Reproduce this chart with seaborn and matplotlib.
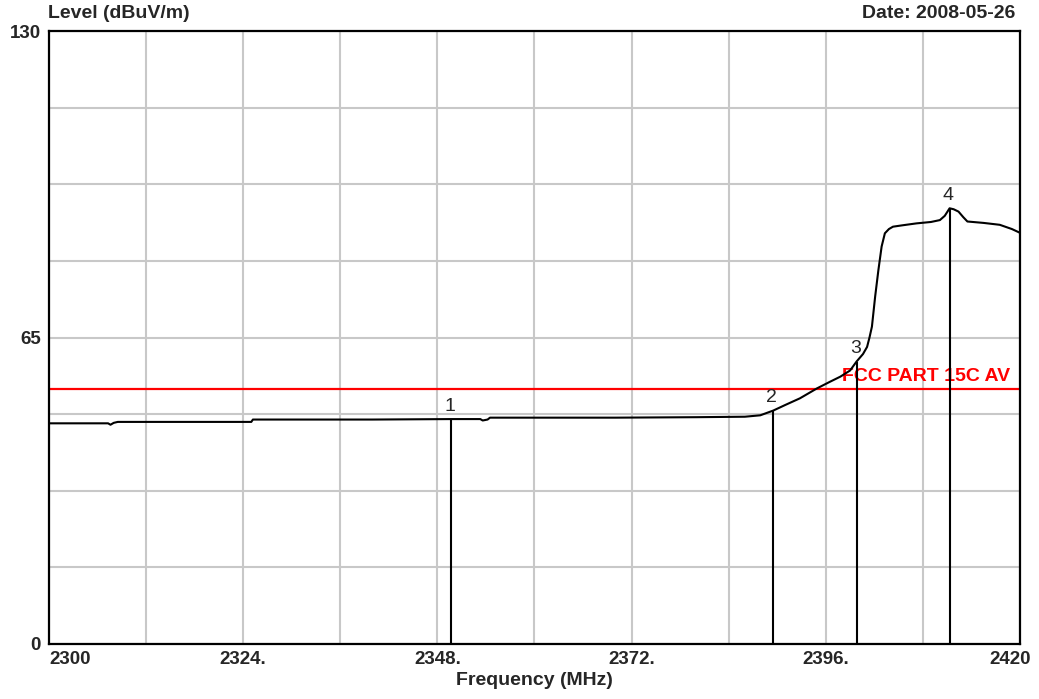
import numpy as np
import pandas as pd
import matplotlib
matplotlib.use("Agg")
import matplotlib.pyplot as plt
import seaborn as sns

# Trace (MHz, dBuV/m)
freq = [2300.0, 2307.3, 2307.6, 2308.0, 2308.5, 2325.0, 2325.2, 2340.0,
        2349.7, 2353.3, 2353.6, 2354.2, 2354.5, 2370.0, 2380.0, 2386.0,
        2387.9, 2389.5, 2391.0, 2392.8, 2394.9, 2396.5, 2397.8, 2399.0,
        2399.8, 2400.6, 2401.1, 2401.4, 2401.7, 2402.1, 2402.5, 2402.9,
        2403.3, 2403.8, 2404.3, 2405.5, 2407.2, 2409.0, 2410.1, 2410.7,
        2411.3, 2411.8, 2412.4, 2413.0, 2413.5, 2415.5, 2417.5, 2419.0,
        2420.0]
level = [46.8, 46.8, 46.5, 46.9, 47.1, 47.1, 47.6, 47.6,
         47.7, 47.7, 47.4, 47.6, 48.0, 48.0, 48.1, 48.2,
         48.5, 49.5, 50.7, 52.1, 54.2, 55.6, 56.7, 58.0,
         59.9, 61.5, 63.0, 65.0, 67.3, 73.7, 79.3, 84.3,
         87.1, 88.0, 88.5, 88.8, 89.2, 89.5, 89.9, 90.8,
         92.4, 92.2, 91.7, 90.5, 89.6, 89.3, 88.9, 88.0,
         87.2]

# Markers
marker_ids = ["1", "2", "3", "4"]
marker_freq = [2349.7, 2389.5, 2399.8, 2411.3]
marker_level = [47.7, 49.5, 59.9, 92.4]

# Limit line
limit_name = "FCC PART 15C AV"
limit_level = 54

x_ticks = [2300, 2312, 2324, 2336, 2348, 2360, 2372, 2384, 2396, 2408, 2420]
x_tick_labels = ["2300", "", "2324.", "", "2348.", "", "2372.", "", "2396.", "", ""]
y_ticks = [0, 16.25, 32.5, 48.75, 65, 81.25, 97.5, 113.75, 130]
y_tick_labels = ["0", "", "", "", "65", "", "", "", "130"]

df = pd.DataFrame({"Frequency": freq, "Level": level})

sns.set_style("white")
plt.rcParams["font.family"] = ["Liberation Sans", "DejaVu Sans"]

fig = plt.figure(figsize=(10.39, 6.99), dpi=100)
ax = fig.add_axes([49 / 1039, 55 / 699, 971 / 1039, 613 / 699])

ax.set_xlim(2300, 2420)
ax.set_ylim(0, 130)
ax.set_xticks(x_ticks)
ax.set_yticks(y_ticks)
ax.set_xticklabels(x_tick_labels, fontsize=13.5, fontweight="bold")
ax.set_yticklabels(y_tick_labels, fontsize=13.5, fontweight="bold")
ax.tick_params(length=0)
ax.tick_params(axis="x", pad=5)
ax.tick_params(axis="y", pad=6)
ax.get_xticklabels()[0].set_ha("left")
ax.annotate("2420", xy=(2420, 0), xytext=(8, -5), textcoords="offset points",
            ha="right", va="top", fontsize=13.5, fontweight="bold",
            annotation_clip=False)
ax.grid(True, color="#c8c8c8", linewidth=1.5)
ax.set_axisbelow(True)

for s in ax.spines.values():
    s.set_color("black")
    s.set_linewidth(1.6)

# limit line
ax.axhline(limit_level, color="#ff0000", linewidth=1.6, zorder=2)
ax.annotate(limit_name, xy=(2418.8, limit_level), xytext=(0, 3),
            textcoords="offset points", ha="right", va="bottom",
            color="#ff0000", fontsize=14, fontweight="bold")

# trace
sns.lineplot(data=df, x="Frequency", y="Level", color="black",
             linewidth=1.5, ax=ax, zorder=3)

# markers
ax.vlines(marker_freq, 0, marker_level, color="black", linewidth=1.5, zorder=3)
for mid, mf, ml in zip(marker_ids, marker_freq, marker_level):
    ax.annotate(mid, xy=(mf, ml), xytext=(-1, 3), textcoords="offset points",
                ha="center", va="bottom", fontsize=14)

ax.set_xlabel("Frequency (MHz)", fontsize=14, fontweight="bold", labelpad=3)
ax.set_ylabel("")

fig.text(48 / 1039, 1 - 14 / 699, "Level (dBuV/m)", fontsize=14,
         fontweight="bold", ha="left", va="center")
fig.text(1015 / 1039, 1 - 14 / 699, "Date: 2008-05-26", fontsize=14,
         fontweight="bold", ha="right", va="center")

fig.savefig("out.png", dpi=100)
